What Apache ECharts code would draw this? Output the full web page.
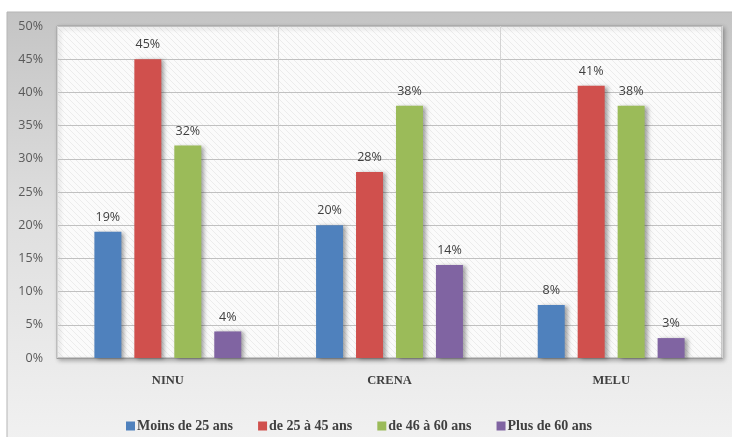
<!DOCTYPE html>
<html>
<head>
<meta charset="utf-8">
<script src="https://cdn.jsdelivr.net/npm/echarts@6/dist/echarts.min.js"></script>
<style>
  html, body { margin: 0; padding: 0; background: #fff; }
  #main { width: 732px; height: 437px; }
</style>
</head>
<body>
<div id="main"></div>
<script>
var categories = ["NINU", "CRENA", "MELU"];
var seriesNames = ["Moins de 25 ans", "de 25 à 45 ans", "de 46 à 60 ans", "Plus de 60 ans"];
var moins25 = [19, 20, 8];
var de25a45 = [45, 28, 41];
var de46a60 = [32, 38, 38];
var plus60 = [4, 14, 3];
var colors = ["#4f81bd", "#d0504d", "#9bbb59", "#8064a2"];

// hachures fines du fond de la zone de tracé
var hatch = document.createElement("canvas");
hatch.width = 6;
hatch.height = 6;
var hc = hatch.getContext("2d");
hc.fillStyle = "#fbfbfb";
hc.fillRect(0, 0, 6, 6);
hc.strokeStyle = "#ececec";
hc.lineWidth = 1;
hc.beginPath();
hc.moveTo(0, 0); hc.lineTo(6, 6);
hc.moveTo(-3, 3); hc.lineTo(3, 9);
hc.moveTo(3, -3); hc.lineTo(9, 3);
hc.stroke();

var myChart = echarts.init(document.getElementById("main"));

function makeSeries(name, data, i) {
  return {
    name: name,
    type: "bar",
    data: data,
    barWidth: 27,
    barGap: "48%",
    itemStyle: {
      color: colors[i],
      shadowBlur: 4,
      shadowOffsetX: 3,
      shadowOffsetY: 1,
      shadowColor: "rgba(0,0,0,0.35)"
    },
    label: {
      show: true,
      position: "top",
      distance: 8,
      formatter: "{c}%",
      color: "#404040",
      fontFamily: "Open Sans",
      fontSize: 12.5
    }
  };
}

myChart.setOption({
  animation: false,
  graphic: [
    {
      type: "rect",
      silent: true,
      z: -10,
      shape: { x: 7, y: 12, width: 740, height: 440 },
      style: {
        fill: new echarts.graphic.LinearGradient(0, 0, 0, 1, [
          { offset: 0, color: "#c4c4c4" },
          { offset: 0.45, color: "#dedede" },
          { offset: 1, color: "#f2f2f2" }
        ]),
        stroke: "#b5b5b5",
        lineWidth: 1
      }
    }
  ],
  legend: {
    data: seriesNames,
    left: 121,
    top: 414,
    itemWidth: 9,
    itemHeight: 9,
    itemGap: 25,
    icon: "rect",
    textStyle: {
      color: "#404040",
      fontFamily: "Liberation Serif",
      fontWeight: "bold",
      fontSize: 14,
      padding: [0, 0, 0, -3]
    }
  },
  grid: {
    left: 57,
    right: 10,
    top: 26,
    bottom: 79,
    show: true,
    backgroundColor: { image: hatch, repeat: "repeat" },
    borderColor: "#a0a0a0",
    borderWidth: 1,
    shadowBlur: 4,
    shadowOffsetX: 2,
    shadowOffsetY: 2,
    shadowColor: "rgba(0,0,0,0.3)"
  },
  xAxis: {
    type: "category",
    data: categories,
    axisLine: { lineStyle: { color: "#9a9a9a" } },
    axisTick: { show: false },
    splitLine: { show: true, lineStyle: { color: "#d4d4d4" } },
    axisLabel: {
      color: "#404040",
      fontFamily: "Liberation Serif",
      fontWeight: "bold",
      fontSize: 12.5,
      margin: 16
    }
  },
  yAxis: {
    type: "value",
    min: 0,
    max: 50,
    interval: 5,
    axisLine: { show: false },
    axisTick: { show: false },
    splitLine: { lineStyle: { color: "#c0c0c0" } },
    axisLabel: {
      formatter: "{value}%",
      color: "#595959",
      fontFamily: "Open Sans",
      fontSize: 12.5,
      margin: 14
    }
  },
  series: [
    makeSeries(seriesNames[0], moins25, 0),
    makeSeries(seriesNames[1], de25a45, 1),
    makeSeries(seriesNames[2], de46a60, 2),
    makeSeries(seriesNames[3], plus60, 3)
  ]
});
</script>
</body>
</html>
